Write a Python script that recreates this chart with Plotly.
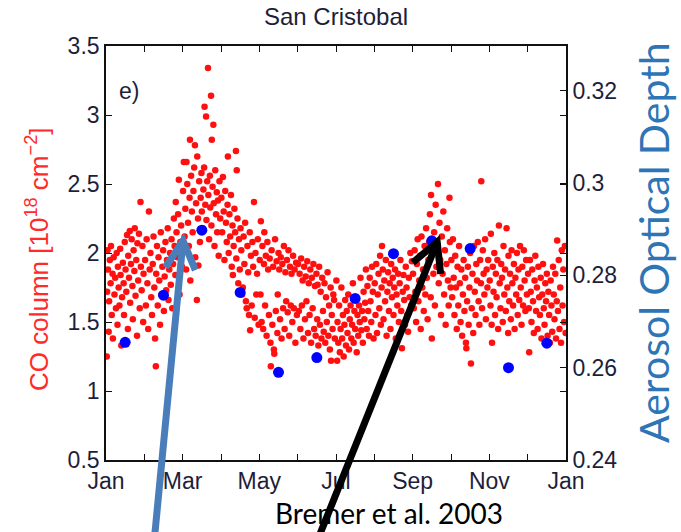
import math
import plotly.graph_objects as go

# ---- axis labels -------------------------------------------------------
month_ticks = [0, 2, 4, 6, 8, 10, 12]
month_labels = ["Jan", "Mar", "May", "Jul", "Sep", "Nov", "Jan"]
aod_ticks = [0.24, 0.26, 0.28, 0.30, 0.32]
aod_tick_labels = ["0.24", "0.26", "0.28", "0.3", "0.32"]

# ---- daily CO column (month position, CO in 1e18 cm^-2), one list per month
co_jan = [(0.02, 1.25), (0.03, 1.72), (0.04, 2.02), (0.05, 1.88), (0.07, 1.43), (0.08, 1.65), (0.10, 1.95),
          (0.12, 1.78), (0.13, 2.05), (0.15, 1.55), (0.17, 1.85), (0.18, 1.38), (0.20, 1.97), (0.22, 1.70),
          (0.24, 1.82), (0.26, 1.60), (0.28, 2.00), (0.30, 1.48), (0.31, 1.90), (0.33, 1.75), (0.35, 1.62),
          (0.37, 2.03), (0.38, 1.84), (0.40, 1.33), (0.42, 1.68), (0.44, 1.93), (0.46, 1.78), (0.47, 1.55),
          (0.49, 2.08), (0.51, 1.88), (0.53, 1.72), (0.55, 2.13), (0.57, 1.45), (0.58, 1.98), (0.60, 1.82),
          (0.62, 2.16), (0.63, 1.64), (0.65, 1.92), (0.67, 2.10), (0.69, 1.76), (0.70, 1.52), (0.72, 2.02),
          (0.74, 1.87), (0.75, 2.18), (0.77, 1.69), (0.79, 1.95), (0.81, 1.40), (0.82, 2.07), (0.84, 1.80),
          (0.86, 2.14), (0.88, 1.60), (0.90, 2.37), (0.91, 1.90), (0.93, 1.73), (0.95, 2.05), (0.97, 1.50),
          (0.98, 1.85)]
co_feb = [(1.02, 1.95), (1.04, 1.62), (1.06, 2.10), (1.08, 1.78), (1.10, 1.45), (1.12, 2.30), (1.14, 1.88),
          (1.16, 2.00), (1.18, 1.68), (1.20, 1.55), (1.22, 1.92), (1.24, 2.12), (1.26, 1.75), (1.28, 1.38),
          (1.30, 1.18), (1.31, 1.85), (1.33, 2.05), (1.35, 1.62), (1.37, 1.97), (1.39, 1.80), (1.41, 1.48),
          (1.43, 2.15), (1.45, 1.70), (1.47, 1.90), (1.49, 2.02), (1.51, 1.58), (1.53, 1.83), (1.55, 2.08),
          (1.57, 1.73), (1.59, 1.95), (1.61, 2.18), (1.63, 1.66), (1.65, 1.88), (1.67, 2.00), (1.69, 1.77),
          (1.71, 2.10), (1.73, 1.60), (1.75, 1.92), (1.77, 2.25), (1.79, 2.05), (1.81, 1.84), (1.82, 2.37),
          (1.84, 2.15), (1.86, 1.97), (1.88, 2.28), (1.90, 2.53), (1.92, 1.70), (1.94, 2.08), (1.96, 2.20),
          (1.98, 1.90)]
co_mar = [(2.01, 2.45), (2.03, 2.66), (2.05, 2.12), (2.07, 2.32), (2.09, 1.88), (2.10, 2.66), (2.12, 2.50),
          (2.14, 2.22), (2.16, 2.05), (2.18, 2.40), (2.19, 2.82), (2.20, 1.80), (2.22, 2.56), (2.24, 2.30),
          (2.26, 2.15), (2.28, 2.45), (2.30, 2.62), (2.32, 2.78), (2.33, 1.97), (2.35, 2.36), (2.37, 1.66),
          (2.38, 2.70), (2.40, 2.25), (2.41, 1.91), (2.43, 2.52), (2.45, 2.08), (2.47, 2.40), (2.49, 2.58),
          (2.50, 2.30), (2.52, 2.18), (2.54, 2.46), (2.56, 2.62), (2.57, 3.06), (2.59, 2.35), (2.61, 2.99),
          (2.62, 2.24), (2.64, 2.52), (2.66, 3.34), (2.67, 2.42), (2.69, 2.10), (2.71, 2.56), (2.72, 2.33),
          (2.74, 3.14), (2.75, 2.20), (2.76, 2.82), (2.78, 2.48), (2.80, 2.93), (2.81, 2.36), (2.83, 2.05),
          (2.85, 2.60), (2.87, 2.28), (2.89, 2.44), (2.90, 2.15), (2.92, 2.38), (2.94, 1.98), (2.96, 2.52),
          (2.98, 2.25)]
co_apr = [(3.01, 2.40), (3.03, 2.15), (3.05, 2.55), (3.07, 2.30), (3.09, 1.95), (3.11, 2.45), (3.13, 2.22),
          (3.15, 2.08), (3.17, 2.35), (3.18, 2.70), (3.20, 2.00), (3.22, 2.28), (3.24, 2.12), (3.26, 2.42),
          (3.28, 1.90), (3.30, 2.20), (3.31, 1.84), (3.33, 2.05), (3.35, 2.32), (3.37, 2.15), (3.39, 2.74),
          (3.40, 1.96), (3.41, 2.60), (3.43, 2.25), (3.45, 1.78), (3.47, 2.10), (3.49, 1.88), (3.51, 2.18),
          (3.53, 2.02), (3.55, 1.70), (3.57, 1.75), (3.59, 2.12), (3.61, 1.92), (3.63, 2.22), (3.65, 1.65),
          (3.67, 1.60), (3.69, 2.05), (3.71, 1.86), (3.73, 1.55), (3.75, 2.15), (3.76, 1.44), (3.78, 1.98),
          (3.80, 1.62), (3.82, 2.08), (3.84, 1.90), (3.86, 2.37), (3.88, 1.53), (3.90, 2.00), (3.92, 1.70),
          (3.94, 1.85), (3.96, 2.10), (3.98, 1.48)]
co_may = [(4.01, 1.95), (4.03, 1.70), (4.04, 2.23), (4.06, 1.50), (4.08, 2.05), (4.10, 1.45), (4.12, 1.92),
          (4.13, 2.15), (4.15, 1.62), (4.17, 1.98), (4.19, 1.40), (4.21, 2.08), (4.23, 1.88), (4.25, 1.55),
          (4.27, 1.96), (4.29, 1.35), (4.30, 1.18), (4.32, 2.02), (4.34, 1.48), (4.36, 1.90), (4.38, 1.30),
          (4.39, 1.27), (4.41, 2.10), (4.43, 1.58), (4.45, 1.94), (4.47, 1.42), (4.48, 1.70), (4.50, 2.00),
          (4.52, 1.88), (4.54, 1.52), (4.56, 1.97), (4.58, 1.38), (4.60, 1.92), (4.62, 1.60), (4.64, 2.05),
          (4.66, 1.45), (4.68, 1.86), (4.70, 1.65), (4.72, 1.95), (4.74, 1.57), (4.76, 2.02), (4.78, 1.40),
          (4.80, 1.90), (4.82, 1.62), (4.84, 1.85), (4.86, 1.50), (4.88, 1.98), (4.90, 1.60), (4.92, 1.88),
          (4.94, 1.35), (4.96, 1.93), (4.98, 1.55)]
co_jun = [(5.01, 1.92), (5.03, 1.58), (5.05, 1.85), (5.07, 1.45), (5.09, 1.96), (5.11, 1.62), (5.13, 1.80),
          (5.15, 1.38), (5.17, 1.90), (5.19, 1.52), (5.21, 1.83), (5.23, 1.65), (5.25, 1.94), (5.27, 1.42),
          (5.29, 1.78), (5.31, 1.55), (5.33, 1.88), (5.35, 1.35), (5.37, 1.82), (5.39, 1.60), (5.41, 1.92),
          (5.43, 1.45), (5.45, 1.76), (5.47, 1.40), (5.49, 1.85), (5.51, 1.52), (5.52, 1.77), (5.54, 1.33),
          (5.56, 1.90), (5.58, 1.48), (5.60, 1.72), (5.62, 1.38), (5.64, 1.82), (5.66, 1.58), (5.68, 1.43),
          (5.70, 1.78), (5.72, 1.35), (5.74, 1.68), (5.76, 1.50), (5.78, 1.86), (5.80, 1.40), (5.82, 1.62),
          (5.84, 1.30), (5.86, 1.75), (5.87, 1.22), (5.89, 1.55), (5.91, 1.45), (5.93, 1.70), (5.95, 1.66),
          (5.97, 1.38)]
co_jul = [(6.01, 1.80), (6.03, 1.22), (6.04, 1.50), (6.06, 1.35), (6.08, 1.62), (6.10, 1.28), (6.12, 1.45),
          (6.14, 1.75), (6.16, 1.38), (6.18, 1.55), (6.20, 1.25), (6.22, 1.48), (6.24, 1.66), (6.26, 1.33),
          (6.28, 1.58), (6.30, 1.42), (6.32, 1.70), (6.34, 1.30), (6.36, 1.52), (6.38, 1.62), (6.40, 1.38),
          (6.42, 1.48), (6.44, 1.78), (6.46, 1.35), (6.48, 1.58), (6.50, 1.45), (6.52, 1.68), (6.54, 1.28),
          (6.56, 1.55), (6.58, 1.40), (6.60, 1.62), (6.62, 1.50), (6.64, 1.82), (6.66, 1.44), (6.68, 1.58),
          (6.70, 1.35), (6.72, 1.72), (6.74, 1.52), (6.76, 1.64), (6.78, 1.88), (6.80, 1.45), (6.82, 1.76),
          (6.84, 1.58), (6.86, 1.40), (6.88, 1.82), (6.90, 1.65), (6.92, 1.50), (6.94, 1.90), (6.96, 1.72),
          (6.98, 1.38)]
co_aug = [(7.01, 1.78), (7.03, 1.55), (7.05, 1.92), (7.07, 1.42), (7.09, 1.70), (7.11, 1.85), (7.13, 1.60),
          (7.15, 1.98), (7.17, 1.48), (7.19, 1.75), (7.20, 2.05), (7.22, 1.88), (7.24, 1.52), (7.26, 1.80),
          (7.28, 1.65), (7.30, 1.95), (7.32, 1.40), (7.34, 1.72), (7.36, 1.86), (7.38, 1.58), (7.40, 1.78),
          (7.42, 1.45), (7.44, 1.92), (7.46, 1.68), (7.48, 1.82), (7.50, 1.55), (7.52, 1.75), (7.54, 1.88),
          (7.56, 1.38), (7.58, 1.70), (7.60, 1.62), (7.62, 1.85), (7.64, 1.50), (7.66, 1.78), (7.68, 1.95),
          (7.70, 1.58), (7.72, 1.31), (7.74, 1.72), (7.76, 1.84), (7.78, 1.66), (7.80, 1.48), (7.82, 1.90),
          (7.84, 1.75), (7.86, 1.55), (7.88, 1.43), (7.90, 1.82), (7.92, 1.68), (7.94, 2.00), (7.96, 1.62),
          (7.98, 1.94)]
co_sep = [(8.01, 1.85), (8.03, 1.60), (8.05, 2.02), (8.07, 1.72), (8.09, 1.50), (8.11, 1.92), (8.13, 2.10),
          (8.15, 1.65), (8.17, 1.80), (8.19, 1.98), (8.21, 1.45), (8.23, 2.12), (8.25, 1.75), (8.27, 1.88),
          (8.29, 1.58), (8.31, 2.05), (8.33, 1.70), (8.35, 2.18), (8.37, 1.82), (8.39, 1.52), (8.41, 1.95),
          (8.43, 2.08), (8.45, 2.28), (8.47, 1.68), (8.48, 2.42), (8.50, 1.38), (8.52, 2.00), (8.54, 1.85),
          (8.56, 2.15), (8.58, 1.62), (8.60, 2.35), (8.62, 1.90), (8.64, 2.05), (8.66, 2.50), (8.68, 1.78),
          (8.70, 2.22), (8.72, 1.95), (8.74, 1.55), (8.76, 2.12), (8.78, 1.85), (8.80, 2.30), (8.82, 1.70),
          (8.84, 2.02), (8.86, 1.48), (8.88, 1.92), (8.90, 2.18), (8.92, 1.80), (8.94, 1.62), (8.96, 2.40),
          (8.97, 2.08), (8.99, 1.75)]
co_oct = [(9.01, 1.95), (9.03, 1.68), (9.05, 2.10), (9.07, 1.82), (9.09, 1.55), (9.11, 1.98), (9.13, 1.75),
          (9.15, 1.45), (9.17, 1.90), (9.19, 1.62), (9.21, 2.05), (9.23, 1.78), (9.25, 1.50), (9.27, 1.88),
          (9.29, 1.40), (9.31, 1.70), (9.33, 1.95), (9.35, 1.58), (9.37, 1.82), (9.39, 1.35), (9.40, 1.31),
          (9.42, 1.65), (9.44, 1.90), (9.46, 1.48), (9.48, 1.75), (9.50, 2.00), (9.52, 1.20), (9.54, 1.60),
          (9.56, 1.85), (9.58, 1.42), (9.60, 2.05), (9.62, 1.72), (9.64, 1.55), (9.66, 1.92), (9.68, 1.80),
          (9.70, 2.08), (9.72, 1.65), (9.74, 1.48), (9.76, 1.95), (9.78, 1.78), (9.79, 2.52), (9.81, 1.60),
          (9.83, 2.02), (9.85, 1.85), (9.87, 1.70), (9.89, 2.10), (9.91, 1.52), (9.93, 1.88), (9.95, 1.75),
          (9.97, 1.95)]
co_nov = [(10.01, 1.80), (10.03, 1.62), (10.04, 2.14), (10.06, 1.48), (10.07, 1.35), (10.09, 1.90),
          (10.11, 1.72), (10.13, 2.00), (10.15, 1.55), (10.17, 1.85), (10.19, 1.68), (10.21, 1.95),
          (10.23, 1.45), (10.25, 2.20), (10.27, 1.78), (10.29, 1.60), (10.31, 1.92), (10.33, 1.82),
          (10.35, 1.50), (10.37, 2.05), (10.39, 1.70), (10.41, 1.88), (10.43, 1.58), (10.45, 2.18),
          (10.47, 1.75), (10.49, 1.42), (10.50, 1.98), (10.52, 1.65), (10.54, 1.85), (10.56, 1.52),
          (10.58, 2.02), (10.60, 1.78), (10.62, 1.62), (10.64, 1.92), (10.66, 1.45), (10.68, 1.82),
          (10.70, 1.70), (10.72, 2.00), (10.74, 1.55), (10.76, 1.88), (10.78, 1.66), (10.80, 2.05),
          (10.82, 1.75), (10.84, 1.48), (10.86, 1.90), (10.88, 1.62), (10.90, 2.02), (10.92, 1.80),
          (10.94, 1.58), (10.96, 1.95), (10.98, 1.70)]
co_dec = [(11.01, 1.85), (11.03, 1.60), (11.04, 1.28), (11.06, 1.95), (11.08, 1.72), (11.10, 1.50),
          (11.12, 1.88), (11.14, 1.65), (11.16, 1.42), (11.18, 1.80), (11.20, 1.98), (11.22, 1.58),
          (11.24, 1.75), (11.26, 1.45), (11.28, 1.90), (11.30, 1.68), (11.32, 1.55), (11.34, 1.82),
          (11.36, 1.38), (11.38, 1.70), (11.40, 1.92), (11.42, 1.60), (11.44, 1.48), (11.46, 1.78),
          (11.48, 1.65), (11.50, 1.85), (11.52, 1.40), (11.54, 1.72), (11.56, 1.55), (11.58, 1.35),
          (11.60, 1.80), (11.62, 1.62), (11.64, 1.43), (11.66, 1.90), (11.68, 1.70), (11.70, 1.52),
          (11.72, 1.85), (11.74, 1.38), (11.76, 1.65), (11.77, 2.09), (11.79, 1.58), (11.81, 1.95),
          (11.83, 1.45), (11.85, 1.75), (11.87, 1.35), (11.89, 2.02), (11.91, 1.62), (11.93, 1.88),
          (11.95, 1.50), (11.97, 2.05), (11.99, 1.42)]

# ---- monthly mean aerosol optical depth (mid-month) ---------------------
aod_month = [0.5, 1.5, 2.5, 3.5, 4.5, 5.5, 6.5, 7.5, 8.5, 9.5, 10.5, 11.5]
aod_value = [0.2655, 0.2757, 0.2898, 0.2763, 0.2590, 0.2622,
             0.2750, 0.2847, 0.2875, 0.2858, 0.2600, 0.2653]

co_range = [0.5, 3.5]
aod_range = [0.24, 0.3297]
month_range = [0, 12]

co_points = (co_jan + co_feb + co_mar + co_apr + co_may + co_jun +
             co_jul + co_aug + co_sep + co_oct + co_nov + co_dec)
co_month = [p[0] for p in co_points]
co_value = [p[1] for p in co_points]

# ---- page geometry -----------------------------------------------------
W, H = 681, 532
ML, MR, MT, MB = 106, 115, 46, 72
PW, PH = W - ML - MR, H - MT - MB

LABEL_FAMILY = "Liberation Sans, Arial, sans-serif"
TICK_FONT = dict(family=LABEL_FAMILY, size=23, color="#1e1e3a")


def data_to_px(month, co):
    x = ML + (month - month_range[0]) / (month_range[1] - month_range[0]) * PW
    y = MT + PH - (co - co_range[0]) / (co_range[1] - co_range[0]) * PH
    return x, y


def px_to_paper(x, y):
    return (x - ML) / PW, (MT + PH - y) / PH


def arrow_shapes(tip_data, tail_px, color, width=7, head_len=32, head_deg=28):
    tx, ty = data_to_px(*tip_data)
    bx, by = tail_px
    d = math.hypot(bx - tx, by - ty)
    ux, uy = (bx - tx) / d, (by - ty) / d
    arms = []
    for sgn in (1, -1):
        a = math.radians(sgn * head_deg)
        rx = ux * math.cos(a) - uy * math.sin(a)
        ry = ux * math.sin(a) + uy * math.cos(a)
        arms.append((tx + head_len * rx, ty + head_len * ry))

    def pt(x, y):
        px, py = px_to_paper(x, y)
        return f"{px:.5f},{py:.5f}"

    shaft = f"M {pt(bx, by)} L {pt(tx, ty)}"
    head = f"M {pt(*arms[0])} L {pt(tx, ty)} L {pt(*arms[1])}"
    style = dict(type="path", xref="paper", yref="paper", layer="above",
                 line=dict(color=color, width=width))
    return [dict(path=shaft, **style), dict(path=head, **style)]


fig = go.Figure()

fig.add_trace(go.Scatter(
    x=co_month, y=co_value, mode="markers", yaxis="y",
    marker=dict(symbol="circle", size=6.5, color="#ff0f0f", line=dict(width=0)),
    hoverinfo="skip",
))

fig.add_trace(go.Scatter(
    x=aod_month, y=aod_value, mode="markers", yaxis="y2",
    marker=dict(symbol="circle", size=11, color="#0000ff", line=dict(width=0)),
    hoverinfo="skip",
))

shapes = []
shapes += arrow_shapes((2.01, 2.09), (153.8, 545), "#4a7ebb")
shapes += arrow_shapes((8.64, 2.08), (315.6, 545), "#000000")

annotations = [
    dict(text="San Cristobal", xref="paper", yref="paper", x=0.5, y=(PH + 29) / PH,
         xanchor="center", yanchor="middle", showarrow=False,
         font=dict(family=LABEL_FAMILY, size=24, color="#1e1e3a")),
    dict(text="e)", xref="paper", yref="paper", x=23 / PW, y=(PH - 45) / PH,
         xanchor="center", yanchor="middle", showarrow=False,
         font=dict(family=LABEL_FAMILY, size=23, color="#1e1e3a")),
    dict(text="CO column [10<sup>18</sup> cm<sup>\u22122</sup>]", xref="paper", yref="paper",
         x=(37 - ML) / PW, y=(MT + PH - 259) / PH, textangle=-90,
         xanchor="center", yanchor="middle", showarrow=False,
         font=dict(family=LABEL_FAMILY, size=26, color="#ff2a2a")),
    dict(text="Aerosol Optical Depth", xref="paper", yref="paper",
         x=(653 - ML) / PW, y=(MT + PH - 243) / PH, textangle=-90,
         xanchor="center", yanchor="middle", showarrow=False, borderpad=0,
         font=dict(family="Lato, sans-serif", size=41, color="#2e75b6")),
    dict(text="Bremer et al. 2003", xref="paper", yref="paper",
         x=(389 - ML) / PW, y=(MT + PH - 513) / PH,
         xanchor="center", yanchor="middle", showarrow=False, borderpad=0,
         font=dict(family="Lato, sans-serif", size=28, color="#000000")),
]

fig.update_layout(
    width=W, height=H,
    margin=dict(l=ML, r=MR, t=MT, b=MB),
    paper_bgcolor="white", plot_bgcolor="white",
    showlegend=False,
    shapes=shapes,
    annotations=annotations,
    xaxis=dict(
        range=month_range, tickvals=month_ticks, ticktext=month_labels,
        ticks="inside", ticklen=6, tickwidth=1.3, tickcolor="#111",
        minor=dict(tickvals=[1, 3, 5, 7, 9, 11], ticks="inside", ticklen=6,
                   tickwidth=1.3, tickcolor="#111"),
        showline=True, linecolor="#111", linewidth=1.6, mirror="ticks",
        showgrid=False, zeroline=False, tickfont=TICK_FONT,
    ),
    yaxis=dict(
        range=co_range, dtick=0.5, tick0=0.5,
        ticks="inside", ticklen=6, tickwidth=1.3, tickcolor="#111",
        showline=True, linecolor="#111", linewidth=1.6, mirror="ticks",
        showgrid=False, zeroline=False, tickfont=TICK_FONT,
    ),
    yaxis2=dict(
        range=aod_range, tickvals=aod_ticks, ticktext=aod_tick_labels,
        overlaying="y", side="right", anchor="x",
        ticks="inside", ticklen=6, tickwidth=1.3, tickcolor="#111",
        showline=True, linecolor="#111", linewidth=1.6,
        showgrid=False, zeroline=False, tickfont=TICK_FONT,
    ),
)

fig.write_html("out.html")
